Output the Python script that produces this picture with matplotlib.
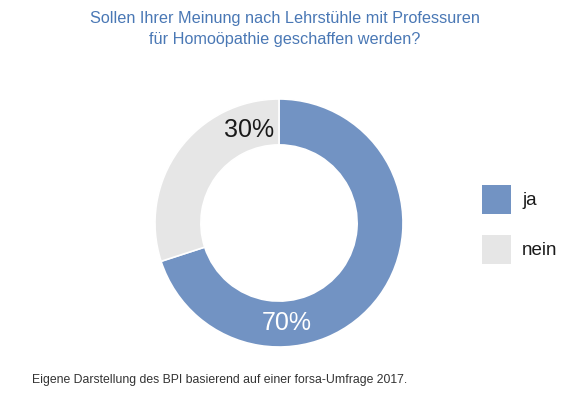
import matplotlib
matplotlib.use("Agg")
import matplotlib.pyplot as plt
from matplotlib.patches import Rectangle

plt.rcParams['font.family'] = ['Liberation Sans', 'DejaVu Sans']

categories = ["ja", "nein"]
values = [70, 30]
value_labels = ["70%", "30%"]
colors = ["#7293C3", "#E6E6E6"]
title = "Sollen Ihrer Meinung nach Lehrstühle mit Professuren\nfür Homoöpathie geschaffen werden?"
footnote = "Eigene Darstellung des BPI basierend auf einer forsa-Umfrage 2017."

W, H = 572, 396
fig = plt.figure(figsize=(W / 100, H / 100), dpi=100)

cx, cy, R = 279, 223, 124
ax = fig.add_axes([(cx - R) / W, (H - cy - R) / H, 2 * R / W, 2 * R / H])
wedges, _ = ax.pie(values, colors=colors, startangle=90, counterclock=False,
                   radius=1.0, wedgeprops=dict(width=0.37, edgecolor="white", linewidth=1.2))
ax.set_xlim(-1, 1)
ax.set_ylim(-1, 1)
ax.set_aspect("equal")
ax.axis("off")

# label positions inside ring
ax.text(0.065, -0.81, value_labels[0], ha="center", va="center", fontsize=18, color="white")
ax.text(-0.24, 0.75, value_labels[1], ha="center", va="center", fontsize=18, color="#1a1a1a")

fig.text(285 / W, 1 - 29 / H, title, ha="center", va="center", fontsize=11.7,
         color="#4A78B5", linespacing=1.55)

fig.text(32 / W, 1 - 380 / H, footnote, ha="left", va="center", fontsize=8.85, color="#333333")

# legend
sq = 29
leg_x = 482
leg_y = [185, 235]
for i, (lab, col) in enumerate(zip(categories, colors)):
    y0 = leg_y[i]
    fig.add_artist(Rectangle((leg_x / W, 1 - (y0 + sq) / H), sq / W, sq / H,
                             transform=fig.transFigure, facecolor=col, edgecolor="none"))
    fig.text(522 / W, 1 - (y0 + sq / 2 + 1) / H, lab, ha="left", va="center",
             fontsize=13.5, color="#1a1a1a")

fig.savefig("out.png", dpi=100)
